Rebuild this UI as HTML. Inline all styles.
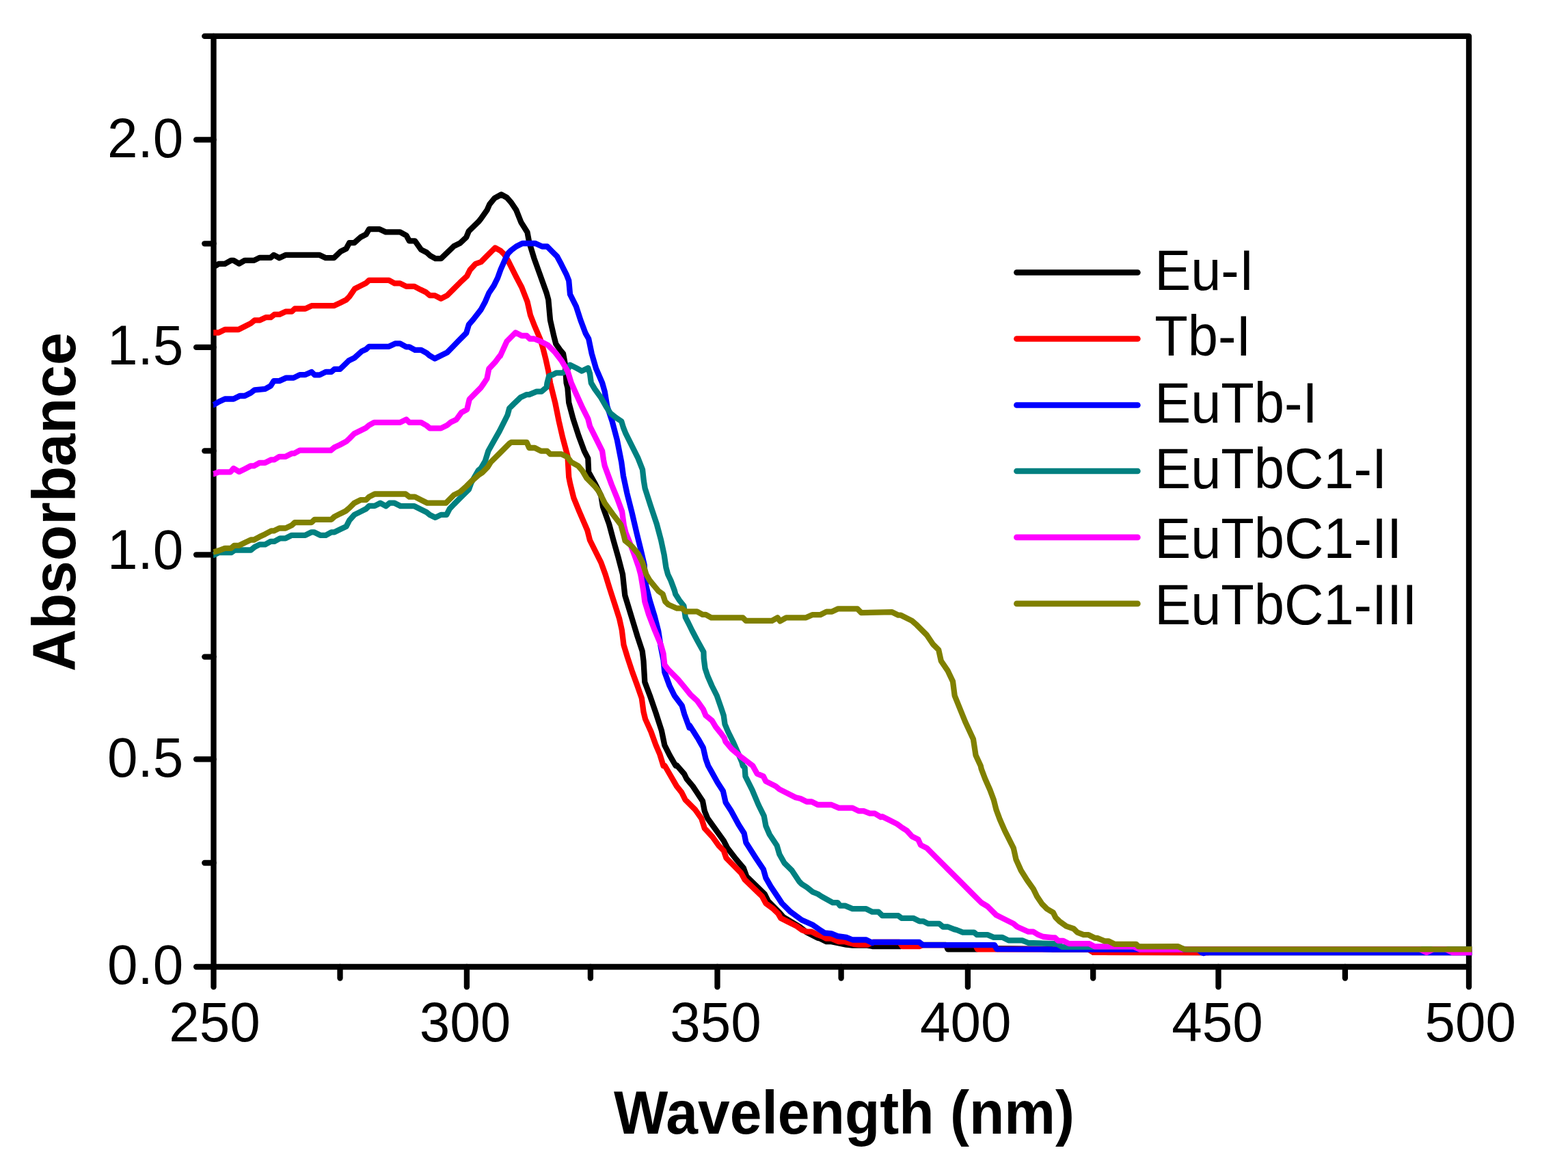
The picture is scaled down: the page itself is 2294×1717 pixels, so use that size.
<!DOCTYPE html>
<html><head><meta charset="utf-8"><title>Absorbance spectra</title>
<style>html,body{margin:0;padding:0;background:#fff;overflow:hidden;}svg{display:block;}</style>
</head><body>
<svg width="2294" height="1717" viewBox="0 0 2294 1717"><rect width="2294" height="1717" fill="#fff"/><g stroke="#000" stroke-width="8.3" fill="none" stroke-linecap="round" stroke-linejoin="round"><path d="M312.5 52.9 L2149.0 52.9 L2149.0 1414.0 L312.5 1414.0 Z"/><path d="M312.5 1414.0 V1443.4"/><path d="M497.5 1414.0 V1430.5"/><path d="M682.9 1414.0 V1443.4"/><path d="M863.9 1414.0 V1430.5"/><path d="M1049.5 1414.0 V1443.4"/><path d="M1230.6 1414.0 V1430.5"/><path d="M1415.9 1414.0 V1443.4"/><path d="M1599.2 1414.0 V1430.5"/><path d="M1782.5 1414.0 V1443.4"/><path d="M1967.9 1414.0 V1430.5"/><path d="M2149.0 1414.0 V1443.4"/><path d="M312.5 1414.0 H287.1"/><path d="M312.5 1262.0 H299.3"/><path d="M312.5 1110.4 H287.1"/><path d="M312.5 960.6 H299.3"/><path d="M312.5 811.3 H287.1"/><path d="M312.5 659.4 H299.3"/><path d="M312.5 507.9 H287.1"/><path d="M312.5 356.3 H299.3"/><path d="M312.5 204.4 H287.1"/><path d="M312.5 52.9 H299.3"/></g><g fill="none" stroke-width="8.3" stroke-linejoin="round" stroke-linecap="butt"><path stroke="#000000" d="M312.2 388.7 L315.4 388.7 L319.9 385.9 L329.0 385.9 L338.0 380.9 L341.7 380.9 L349.8 385.6 L358.0 380.9 L371.6 380.9 L379.7 376.9 L396.0 376.9 L400.5 372.9 L408.7 377.2 L417.8 372.9 L467.6 372.9 L476.6 377.2 L488.4 377.2 L498.4 367.8 L506.5 363.8 L511.1 355.1 L518.3 355.1 L527.4 347.0 L535.5 342.8 L540.0 335.2 L555.4 335.2 L564.5 339.4 L585.3 339.4 L594.4 344.3 L598.9 352.4 L607.1 352.4 L616.1 365.1 L624.3 369.3 L629.7 374.2 L637.0 378.2 L645.1 378.2 L664.1 360.0 L673.2 355.5 L682.2 347.0 L685.9 337.9 L700.0 324.3 L703.6 319.8 L712.6 307.1 L716.2 298.9 L723.5 289.9 L733.4 284.5 L741.6 289.0 L747.9 296.2 L755.2 307.1 L762.4 325.2 L767.0 332.5 L771.5 339.7 L774.2 354.2 L781.4 377.8 L790.5 403.1 L799.6 428.5 L802.3 438.4 L805.0 468.3 L810.4 491.9 L813.2 502.8 L819.5 511.8 L824.0 517.2 L826.7 531.7 L828.6 560.0 L830.4 567.2 L832.2 588.9 L838.5 612.5 L846.7 637.8 L854.8 659.6 L860.3 670.4 L861.2 690.4 L870.2 706.7 L879.3 724.8 L882.0 741.1 L891.1 766.4 L897.4 790.0 L904.6 815.4 L911.0 840.0 L912.5 854.4 L914.3 870.7 L919.8 888.8 L927.0 912.4 L932.5 930.5 L939.7 952.2 L941.5 966.7 L943.3 997.5 L951.5 1019.3 L959.6 1042.8 L967.8 1068.2 L972.3 1089.9 L979.6 1104.4 L988.6 1120.0 L989.0 1120.0 L990.0 1119.1 L1000.9 1131.7 L1004.5 1139.0 L1013.6 1149.9 L1028.0 1171.6 L1030.8 1186.1 L1035.3 1197.0 L1058.8 1229.6 L1064.3 1240.4 L1077.0 1256.7 L1087.8 1269.4 L1092.4 1282.1 L1118.6 1307.5 L1124.1 1318.3 L1140.4 1334.6 L1145.8 1341.0 L1171.2 1356.4 L1180.2 1363.6 L1196.5 1371.8 L1200.1 1372.7 L1209.2 1377.2 L1216.4 1377.2 L1238.2 1381.7 L1247.2 1382.6 L1269.0 1382.6 L1276.2 1384.0 L1318.0 1384.0 L1322.0 1382.0 L1384.0 1382.0 L1386.5 1388.3 L1429.0 1388.3 L1432.0 1387.0 L1538.0 1388.0 L1540.0 1388.6 L1593.0 1388.6 L1600.0 1392.9 L2153.4 1393.2"/><path stroke="#FF0000" d="M312.2 486.5 L312.7 486.5 L319.9 486.5 L329.0 482.0 L348.9 482.0 L359.8 476.5 L367.0 472.9 L372.5 468.4 L379.7 468.4 L388.8 464.2 L396.0 464.2 L401.4 459.9 L408.7 459.9 L417.8 455.7 L426.8 455.7 L431.3 451.5 L446.7 451.5 L455.8 447.2 L488.4 447.2 L497.5 443.0 L506.5 438.5 L511.1 433.9 L519.2 422.2 L528.3 417.6 L535.5 414.0 L540.0 409.9 L569.0 409.9 L577.2 414.4 L585.3 414.4 L594.4 418.9 L606.2 418.9 L615.2 423.6 L623.4 427.6 L628.8 432.1 L636.1 432.1 L645.1 436.7 L654.2 432.1 L662.3 424.0 L673.2 413.1 L683.2 403.7 L687.7 394.6 L695.8 385.9 L703.6 383.2 L709.0 377.8 L715.3 371.4 L724.4 362.4 L732.5 366.9 L738.0 372.3 L743.4 381.4 L747.9 390.4 L755.2 404.9 L763.3 420.3 L771.5 441.2 L776.0 461.1 L782.4 477.4 L790.5 496.4 L794.1 508.2 L798.7 526.3 L802.3 542.6 L805.0 560.0 L812.2 588.9 L817.7 616.1 L823.1 639.6 L830.4 666.8 L832.2 697.6 L834.0 706.7 L839.4 728.4 L847.6 748.3 L859.3 775.5 L863.0 790.0 L870.2 804.5 L879.3 822.6 L885.6 840.0 L891.7 859.9 L899.9 885.2 L906.2 905.1 L909.8 921.4 L912.5 943.2 L918.0 961.3 L925.2 983.0 L932.5 1003.0 L938.8 1021.1 L941.5 1041.0 L944.2 1051.9 L952.4 1070.0 L959.6 1089.9 L965.1 1102.6 L970.5 1120.0 L972.7 1120.0 L990.0 1149.9 L997.2 1158.9 L1002.7 1169.8 L1017.2 1184.3 L1026.2 1197.0 L1030.8 1211.4 L1042.5 1224.1 L1051.6 1236.8 L1058.8 1244.1 L1062.5 1254.9 L1084.2 1276.7 L1089.6 1286.6 L1115.0 1311.1 L1120.4 1321.1 L1131.3 1329.2 L1138.6 1336.4 L1142.2 1342.8 L1153.0 1348.2 L1165.7 1354.6 L1173.0 1360.0 L1180.2 1362.7 L1187.5 1362.7 L1196.5 1367.2 L1203.8 1370.0 L1209.2 1372.7 L1216.4 1372.7 L1227.3 1377.2 L1236.4 1377.2 L1249.1 1380.8 L1256.3 1381.7 L1269.0 1381.7 L1276.2 1378.0 L1316.0 1378.0 L1320.0 1384.0 L1345.0 1384.0 L1350.0 1382.1 L1427.0 1382.1 L1430.0 1388.3 L1455.0 1388.3 L1459.0 1388.0 L1538.0 1388.3 L1540.0 1388.6 L1593.0 1388.6 L1600.0 1392.9 L1768.0 1393.0 L1772.0 1388.3 L2153.4 1388.3"/><path stroke="#0000FF" d="M312.2 592.0 L312.7 592.0 L319.9 587.7 L329.0 583.5 L341.7 583.5 L350.7 579.0 L358.0 579.0 L367.0 574.5 L372.5 570.3 L387.9 568.9 L396.0 564.4 L400.5 557.1 L408.7 557.1 L418.7 552.6 L429.5 552.6 L438.6 548.1 L446.7 548.1 L455.8 543.9 L460.3 548.4 L467.6 548.4 L476.6 543.9 L484.8 543.9 L489.3 539.9 L497.5 539.9 L510.1 527.6 L518.3 523.6 L529.2 513.7 L535.5 510.9 L540.0 506.8 L569.0 506.8 L578.1 502.4 L585.3 502.4 L594.4 507.3 L598.9 507.3 L607.1 511.8 L616.1 511.8 L624.3 516.4 L627.9 519.6 L636.1 524.5 L645.1 520.0 L654.2 515.5 L663.2 506.4 L671.4 497.9 L682.2 487.0 L685.9 474.7 L692.2 467.5 L703.6 452.9 L709.9 441.2 L715.3 428.5 L722.6 417.6 L728.0 406.7 L732.5 394.1 L738.9 379.6 L743.4 370.5 L747.9 366.0 L755.2 360.5 L764.2 356.0 L783.3 356.0 L793.2 360.5 L800.5 360.5 L806.8 366.9 L815.0 375.0 L821.3 386.8 L828.6 401.3 L832.2 410.4 L834.0 430.3 L843.0 448.4 L849.4 468.3 L856.6 487.4 L861.2 495.5 L865.7 517.2 L872.0 539.0 L881.1 560.0 L884.7 572.6 L888.3 594.3 L895.6 616.1 L902.8 643.3 L909.2 675.9 L911.9 695.8 L917.3 721.2 L924.6 750.1 L931.8 780.9 L937.2 802.7 L942.7 826.2 L943.3 838.1 L945.1 856.2 L950.6 878.0 L957.8 901.5 L963.3 923.3 L966.9 946.8 L970.5 964.9 L972.3 983.0 L979.6 1003.0 L986.8 1017.5 L997.7 1032.0 L1001.3 1044.6 L1008.6 1064.6 L1008.9 1060.9 L1021.6 1080.9 L1028.8 1093.6 L1032.5 1109.9 L1036.1 1120.0 L1040.7 1128.1 L1049.8 1144.4 L1057.9 1157.1 L1061.6 1173.4 L1069.7 1186.1 L1080.6 1206.0 L1088.7 1218.7 L1091.4 1232.3 L1105.9 1254.9 L1116.8 1271.2 L1120.4 1283.9 L1127.7 1296.6 L1138.6 1312.9 L1144.0 1321.1 L1156.7 1333.7 L1173.0 1345.5 L1189.3 1352.8 L1198.3 1359.1 L1206.5 1364.5 L1216.4 1365.4 L1225.5 1369.1 L1238.2 1370.9 L1247.2 1374.5 L1267.2 1374.5 L1276.2 1379.0 L1277.9 1377.8 L1345.0 1377.8 L1350.1 1382.1 L1455.0 1382.1 L1458.4 1388.1 L1538.0 1388.5 L1540.0 1388.6 L1753.0 1388.7 L1758.0 1393.0 L1761.0 1394.0 L1764.0 1393.0 L2153.4 1393.0"/><path stroke="#008080" d="M312.2 811.8 L312.7 811.8 L319.9 808.2 L338.0 808.2 L343.5 804.5 L367.0 804.5 L372.5 800.0 L379.7 796.4 L387.9 796.4 L396.0 791.8 L401.4 791.8 L409.6 787.3 L417.8 787.3 L426.8 782.8 L446.7 782.8 L455.8 778.3 L459.4 778.3 L468.5 782.8 L476.6 782.8 L484.8 778.3 L489.3 778.3 L497.5 774.3 L506.5 770.1 L511.1 761.1 L518.3 752.9 L527.4 748.4 L535.5 744.2 L540.0 739.9 L548.2 739.9 L556.3 735.7 L564.5 740.2 L569.9 735.7 L577.2 735.7 L586.2 740.2 L606.2 740.2 L615.2 744.7 L624.3 749.3 L628.8 752.9 L637.0 756.9 L645.1 752.9 L653.3 752.9 L657.8 744.2 L664.1 737.5 L673.2 728.4 L685.9 715.8 L689.5 705.8 L700.0 687.7 L703.6 684.9 L709.9 674.1 L714.4 659.6 L723.5 643.3 L730.7 630.6 L739.8 612.5 L742.5 607.0 L745.2 597.1 L751.6 590.7 L761.5 581.3 L770.6 577.1 L774.2 577.1 L785.1 572.6 L792.3 572.6 L799.6 566.3 L800.5 560.0 L803.2 549.9 L808.6 548.0 L814.1 545.3 L823.1 545.3 L826.7 543.5 L831.3 539.0 L834.0 533.6 L843.0 538.1 L851.2 542.6 L860.3 538.1 L863.0 546.2 L864.8 560.0 L870.2 569.0 L879.3 581.7 L886.5 594.3 L892.9 604.3 L901.0 610.7 L909.2 616.1 L911.9 625.1 L915.5 634.2 L924.6 652.3 L933.6 670.4 L940.0 686.7 L941.8 703.0 L943.6 713.9 L951.7 739.3 L960.8 766.4 L967.1 790.0 L971.7 811.7 L974.4 829.9 L977.1 840.0 L981.4 849.0 L986.8 863.5 L988.3 869.1 L994.0 878.0 L1000.4 886.0 L1002.8 902.9 L1007.0 911.0 L1012.5 922.3 L1020.0 936.5 L1029.4 953.6 L1029.7 963.1 L1031.6 977.6 L1035.2 988.5 L1041.5 1003.0 L1048.8 1017.5 L1055.1 1035.6 L1058.7 1046.4 L1060.5 1059.1 L1065.1 1070.0 L1072.3 1084.5 L1078.7 1099.0 L1085.0 1113.5 L1086.8 1120.0 L1089.6 1122.7 L1090.5 1135.4 L1100.5 1155.3 L1109.6 1177.0 L1117.7 1193.3 L1120.4 1207.8 L1125.9 1220.5 L1136.7 1236.8 L1140.4 1249.5 L1147.6 1262.2 L1158.5 1273.0 L1169.3 1289.3 L1173.0 1293.0 L1180.2 1297.5 L1189.3 1304.7 L1196.5 1307.5 L1202.0 1311.1 L1218.3 1320.1 L1225.5 1320.1 L1229.1 1324.7 L1236.4 1324.7 L1247.2 1329.2 L1267.2 1329.2 L1276.2 1333.7 L1285.3 1333.7 L1290.0 1338.3 L1290.8 1339.2 L1314.3 1339.2 L1318.9 1342.8 L1336.1 1342.8 L1345.1 1347.3 L1350.6 1347.3 L1357.8 1350.9 L1374.1 1350.9 L1379.6 1355.5 L1386.8 1355.5 L1395.9 1359.1 L1399.5 1360.0 L1408.6 1363.6 L1424.9 1363.6 L1429.4 1367.2 L1444.8 1367.2 L1453.8 1370.9 L1466.5 1370.9 L1475.6 1375.4 L1495.5 1375.4 L1504.6 1379.0 L1540.0 1380.1 L1545.8 1380.1 L1553.7 1384.8 L1599.0 1384.8 L1660.0 1384.6 L1700.0 1386.0 L1740.0 1388.3 L2153.4 1388.3"/><path stroke="#FF00FF" d="M312.2 693.1 L312.7 693.1 L319.9 690.4 L337.1 690.4 L341.7 685.0 L349.8 689.9 L358.0 685.9 L367.0 681.3 L371.6 681.3 L379.7 676.8 L387.9 676.8 L396.9 672.3 L401.4 672.3 L408.7 667.8 L417.8 667.8 L426.8 663.2 L430.4 663.2 L438.6 658.7 L483.9 658.7 L489.3 654.2 L497.5 650.5 L506.5 645.7 L511.1 641.5 L518.3 634.2 L527.4 629.7 L535.5 625.7 L540.0 621.9 L547.3 617.9 L585.3 617.9 L594.4 613.4 L598.9 617.9 L616.1 617.9 L624.3 622.5 L628.8 626.4 L645.1 626.4 L654.2 621.9 L659.6 617.4 L667.8 613.4 L675.0 603.4 L683.2 598.9 L686.8 583.8 L695.0 575.5 L703.2 567.3 L708.0 560.5 L712.4 553.8 L715.3 539.3 L724.4 529.7 L731.2 520.5 L731.6 520.9 L741.6 499.1 L754.3 486.4 L763.3 491.0 L770.6 491.0 L775.1 495.5 L781.4 495.5 L790.5 499.1 L801.4 504.6 L812.2 515.4 L821.3 527.2 L830.4 542.6 L835.8 560.0 L843.0 576.2 L852.1 596.2 L860.3 612.5 L863.0 623.3 L872.0 641.4 L881.1 659.6 L882.9 672.2 L884.7 681.3 L894.7 708.5 L902.8 728.4 L910.1 748.3 L912.8 768.3 L915.5 779.1 L922.8 797.2 L928.2 811.7 L934.5 829.9 L937.2 840.0 L937.9 843.6 L941.5 865.3 L943.3 879.8 L948.8 897.9 L957.8 921.4 L966.9 943.2 L970.5 955.9 L972.3 972.2 L977.8 979.4 L985.0 986.7 L992.2 993.9 L1001.3 1004.8 L1010.0 1015.7 L1019.8 1024.7 L1028.8 1037.4 L1032.5 1046.4 L1041.5 1053.7 L1047.0 1062.8 L1054.2 1071.8 L1059.6 1079.1 L1061.4 1084.5 L1070.5 1095.4 L1083.2 1106.2 L1101.3 1120.0 L1107.8 1131.7 L1116.8 1135.4 L1120.4 1142.6 L1134.9 1149.9 L1140.4 1154.4 L1163.9 1166.2 L1171.2 1168.0 L1180.2 1172.5 L1187.5 1172.5 L1196.5 1177.0 L1216.4 1177.0 L1227.3 1181.6 L1247.2 1181.6 L1256.3 1186.1 L1263.6 1186.1 L1272.6 1189.7 L1279.9 1189.7 L1288.9 1195.1 L1290.8 1194.2 L1299.9 1198.8 L1312.5 1205.1 L1319.8 1210.5 L1327.0 1215.1 L1334.3 1223.2 L1343.3 1227.8 L1347.0 1235.9 L1356.0 1240.4 L1368.7 1253.1 L1386.8 1271.2 L1404.9 1289.3 L1423.0 1307.5 L1435.7 1320.1 L1444.8 1325.6 L1457.5 1338.3 L1464.7 1341.9 L1482.8 1350.9 L1488.3 1355.5 L1504.6 1362.7 L1511.8 1362.7 L1519.1 1367.2 L1526.3 1370.0 L1540.0 1371.4 L1543.6 1371.4 L1548.3 1375.9 L1555.6 1375.9 L1563.9 1380.1 L1593.5 1380.1 L1601.5 1384.4 L1658.6 1384.4 L1668.0 1388.7 L1728.0 1388.7 L1732.0 1388.2 L2077.0 1388.2 L2087.0 1393.0 L2097.0 1388.2 L2115.0 1388.2 L2125.0 1393.0 L2153.4 1393.0"/><path stroke="#808000" d="M312.2 807.2 L312.7 807.2 L319.9 805.4 L329.0 801.8 L338.0 801.8 L342.6 797.8 L349.8 797.8 L358.0 793.7 L367.0 789.5 L371.6 789.5 L379.7 785.1 L387.9 781.2 L396.9 776.4 L400.5 776.4 L408.7 772.5 L417.8 772.5 L426.8 768.3 L431.3 764.1 L455.8 764.1 L460.3 759.8 L484.8 759.8 L489.3 755.6 L497.5 751.4 L505.6 747.5 L511.1 742.9 L518.3 735.7 L527.4 731.2 L535.5 731.2 L540.0 726.6 L548.2 722.5 L593.5 722.5 L598.9 726.6 L607.1 726.6 L616.1 731.2 L625.2 735.7 L652.4 735.7 L664.1 723.9 L673.2 719.4 L682.2 711.2 L689.5 704.0 L700.0 694.9 L705.4 691.3 L713.5 683.1 L718.0 675.9 L730.7 663.2 L745.2 648.7 L747.9 646.9 L770.6 646.9 L774.2 655.0 L782.4 655.0 L791.4 659.6 L800.5 659.6 L805.0 664.1 L821.3 664.1 L830.4 668.6 L835.8 675.9 L845.8 681.3 L852.1 688.6 L858.4 699.4 L870.2 711.2 L876.6 719.3 L884.7 735.7 L896.5 752.0 L908.3 767.4 L912.8 783.7 L914.6 790.9 L924.6 799.1 L933.6 809.9 L940.0 822.6 L945.4 840.0 L950.6 849.0 L959.6 859.9 L963.3 864.4 L969.6 868.9 L973.2 879.8 L977.8 884.3 L990.4 889.7 L997.7 889.7 L1003.1 894.3 L1010.0 894.3 L1019.8 894.3 L1027.9 898.8 L1032.5 898.8 L1040.6 903.3 L1086.8 903.3 L1091.3 907.9 L1129.4 907.9 L1137.5 903.3 L1141.2 908.4 L1150.2 903.3 L1179.2 903.3 L1188.3 899.2 L1200.0 899.2 L1209.1 894.6 L1217.2 894.6 L1226.3 890.3 L1254.4 890.3 L1260.0 896.1 L1305.2 895.2 L1314.3 899.7 L1317.9 899.7 L1334.2 907.9 L1341.4 914.2 L1355.9 928.7 L1365.0 942.3 L1373.2 950.4 L1376.8 966.7 L1386.7 981.2 L1394.0 996.6 L1396.7 1017.5 L1412.1 1055.5 L1423.9 1080.9 L1427.5 1104.4 L1434.7 1120.0 L1435.7 1124.5 L1441.2 1139.0 L1448.4 1155.3 L1453.8 1169.8 L1457.5 1184.3 L1462.9 1198.8 L1470.1 1215.1 L1482.8 1240.4 L1486.4 1256.7 L1493.7 1273.0 L1502.8 1287.5 L1511.8 1300.2 L1517.2 1311.1 L1524.5 1322.0 L1531.7 1329.2 L1540.8 1334.6 L1544.4 1341.9 L1549.9 1347.3 L1560.0 1354.6 L1570.8 1358.2 L1576.2 1363.6 L1585.3 1367.2 L1592.5 1367.2 L1601.6 1371.8 L1605.2 1371.8 L1616.1 1376.3 L1621.5 1376.3 L1630.6 1380.8 L1659.6 1380.8 L1662.0 1380.8 L1665.5 1384.3 L1723.7 1384.2 L1732.3 1388.3 L2153.4 1388.4"/></g><g font-family="'Liberation Sans', Arial, Helvetica, sans-serif" font-size="80" fill="#000"><text transform="translate(313.9 1522.7) scale(1 1.02)" text-anchor="middle">250</text><text transform="translate(680.5 1522.7) scale(1 1.02)" text-anchor="middle">300</text><text transform="translate(1046.9 1522.7) scale(1 1.02)" text-anchor="middle">350</text><text transform="translate(1412.7 1522.7) scale(1 1.02)" text-anchor="middle">400</text><text transform="translate(1781.0 1522.7) scale(1 1.02)" text-anchor="middle">450</text><text transform="translate(2151.2 1522.7) scale(1 1.02)" text-anchor="middle">500</text><text transform="translate(268.3 1438.6) scale(1 1.02)" text-anchor="end">0.0</text><text transform="translate(268.3 1135.9) scale(1 1.02)" text-anchor="end">0.5</text><text transform="translate(268.3 831.9) scale(1 1.02)" text-anchor="end">1.0</text><text transform="translate(268.3 532.9) scale(1 1.02)" text-anchor="end">1.5</text><text transform="translate(268.3 229.8) scale(1 1.02)" text-anchor="end">2.0</text></g><g stroke-width="8.6" stroke-linecap="round"><path stroke="#000000" d="M1487.4 398.5 H1664.4"/><path stroke="#FF0000" d="M1487.4 495.5 H1664.4"/><path stroke="#0000FF" d="M1487.4 592.5 H1664.4"/><path stroke="#008080" d="M1487.4 689.0 H1664.4"/><path stroke="#FF00FF" d="M1487.4 785.9 H1664.4"/><path stroke="#808000" d="M1487.4 882.9 H1664.4"/></g><g font-family="'Liberation Sans', Arial, Helvetica, sans-serif" font-size="80" fill="#000"><text transform="translate(1689.2 424.4) scale(0.993 1.045)">Eu-I</text><text transform="translate(1689.2 520.3) scale(0.993 1.045)">Tb-I</text><text transform="translate(1689.2 618.1) scale(0.993 1.045)">EuTb-I</text><text transform="translate(1689.2 714.4) scale(0.993 1.045)">EuTbC1-I</text><text transform="translate(1689.2 815.5) scale(0.993 1.045)">EuTbC1-II</text><text transform="translate(1689.2 912.5) scale(0.993 1.045)">EuTbC1-III</text></g><text transform="translate(1235.0 1657.9) scale(0.989 1.045)" text-anchor="middle" font-family="'Liberation Sans', Arial, Helvetica, sans-serif" font-weight="bold" font-size="85" fill="#000">Wavelength (nm)</text><text transform="translate(110.0 734.3) rotate(-90) scale(1.010 1.049)" text-anchor="middle" font-family="'Liberation Sans', Arial, Helvetica, sans-serif" font-weight="bold" font-size="85" fill="#000">Absorbance</text></svg>
</body></html>
